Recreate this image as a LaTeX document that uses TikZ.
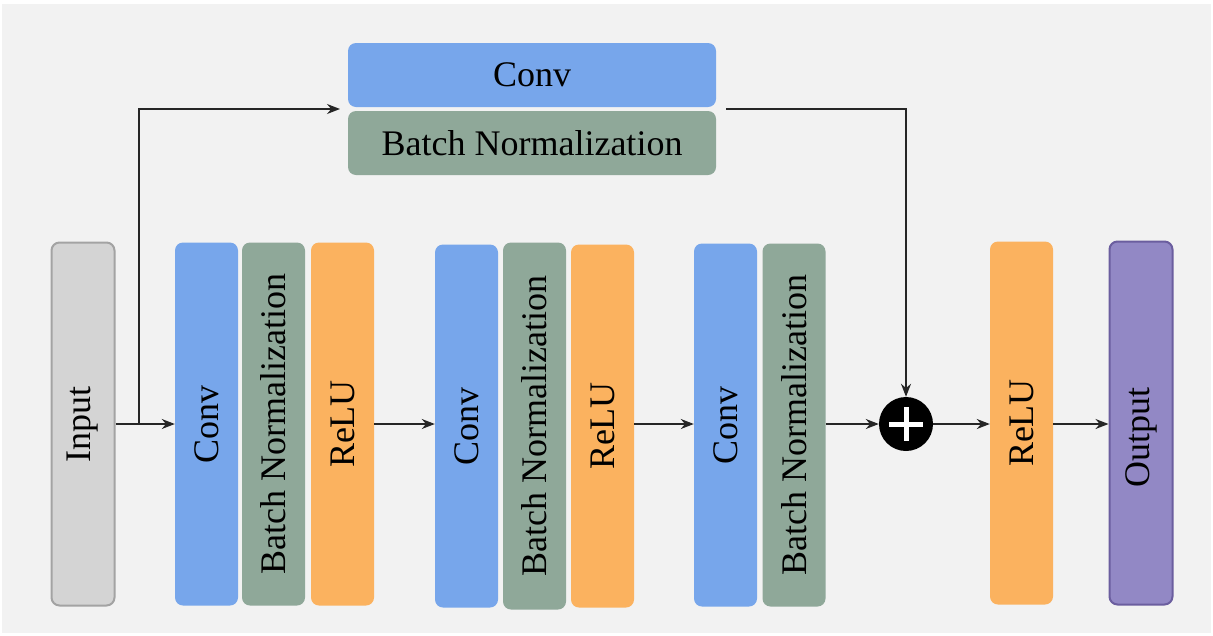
\documentclass[tikz,border=0pt]{standalone}
\usepackage{fontspec}
\setmainfont{Liberation Serif}
\usetikzlibrary{arrows.meta,calc}
\definecolor{bgc}{HTML}{F2F2F2}
\definecolor{convc}{HTML}{77A6EB}
\definecolor{bnc}{HTML}{8FA899}
\definecolor{reluc}{HTML}{FBB25F}
\definecolor{inc}{HTML}{D4D4D4}
\definecolor{inb}{HTML}{A3A3A3}
\definecolor{outc}{HTML}{9288C5}
\definecolor{outb}{HTML}{6B5E9F}
\begin{document}
\begin{tikzpicture}[x=1pt,y=-1pt,
  blk/.style={rounded corners=8pt, minimum width=63pt, minimum height=363pt, inner sep=0pt,
    font=\fontsize{36}{40}\selectfont, text=black},
  hblk/.style={rounded corners=8pt, minimum width=368pt, minimum height=64pt, inner sep=0pt,
    font=\fontsize{36}{40}\selectfont, text=black},
  arr/.style={line width=1.6pt, draw=black!85, -{Stealth[length=13pt,width=10pt]}},
  ln/.style={line width=1.6pt, draw=black!85}]
\useasboundingbox (0,0) rectangle (1213,635);
\fill[white] (0,0) rectangle (1213,635);
\fill[bgc] (2,4) rectangle (1211,633);

\node[blk, fill=inc, draw=inb, line width=2pt] (in) at (83,424) {\rotatebox{90}{Input}};

\node[blk, fill=convc] (c1) at (206.5,424) {\rotatebox{90}{Conv}};
\node[blk, fill=bnc] (b1) at (273.5,424) {\rotatebox{90}{Batch Normalization}};
\node[blk, fill=reluc] (r1) at (342.5,424) {\rotatebox{90}{ReLU}};

\node[blk, fill=convc] (c2) at (466.5,426) {\rotatebox{90}{Conv}};
\node[blk, fill=bnc, minimum height=367pt] (b2) at (534.5,426) {\rotatebox{90}{Batch Normalization}};
\node[blk, fill=reluc] (r2) at (602.5,426) {\rotatebox{90}{ReLU}};

\node[blk, fill=convc] (c3) at (725.5,425) {\rotatebox{90}{Conv}};
\node[blk, fill=bnc] (b3) at (794,425) {\rotatebox{90}{Batch Normalization}};

\node[blk, fill=reluc] (r3) at (1021.5,423) {\rotatebox{90}{ReLU}};
\node[blk, fill=outc, draw=outb, line width=2pt] (out) at (1141,423) {\rotatebox{90}{Output\hspace*{28pt}}};

\node[hblk, fill=convc] (tc) at (532,75) {Conv};
\node[hblk, fill=bnc] (tb) at (532,143) {Batch Normalization};

\node[circle, fill=black, minimum size=54pt, inner sep=0pt] (plus) at (906,424) {};
\draw[white, line width=5pt] ($(plus.center)+(-17,0)$) -- ($(plus.center)+(17,0)$);
\draw[white, line width=5pt] ($(plus.center)+(0,-17)$) -- ($(plus.center)+(0,17)$);

\coordinate (br) at (139,424);
\coordinate (tl) at (340,109);
\coordinate (tr) at (726,109);

\draw[arr] (in.east |- br) -- (c1.west |- br);
\draw[arr] (br) |- (tl);
\draw[arr] (tr) -| (plus.north);
\draw[arr] (r1.east |- br) -- (c2.west |- br);
\draw[arr] (r2.east |- br) -- (c3.west |- br);
\draw[arr] (b3.east |- br) -- (plus.west);
\draw[arr] (plus.east) -- (r3.west |- br);
\draw[arr] (r3.east |- br) -- (out.west |- br);
\end{tikzpicture}
\end{document}
